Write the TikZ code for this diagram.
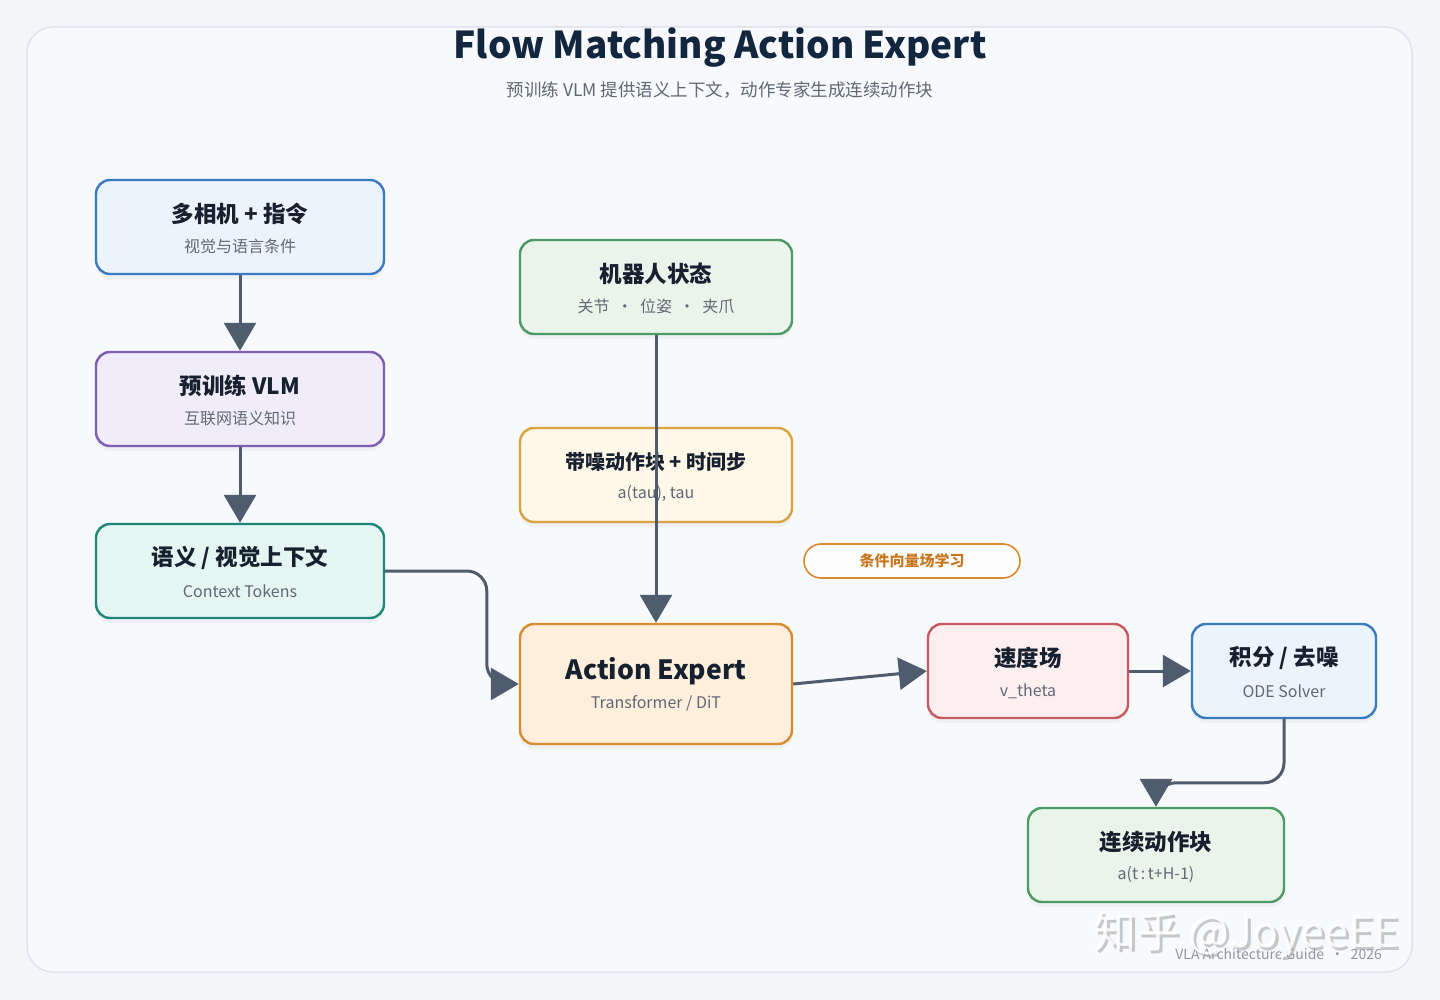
\documentclass[tikz,border=0pt]{standalone}
\usepackage{fontspec}
\setmainfont{Noto Sans CJK SC}
\usetikzlibrary{arrows.meta,shadows,calc}
\definecolor{bgc}{HTML}{F3F6F9}
\definecolor{framec}{HTML}{F7F9FC}
\definecolor{framed}{HTML}{DDE3EA}
\definecolor{titc}{HTML}{12263F}
\definecolor{subc}{HTML}{5F6975}
\definecolor{edgec}{HTML}{4F5C6E}
\definecolor{nodet}{HTML}{16202E}
\definecolor{blueF}{HTML}{EBF4FD}\definecolor{blueD}{HTML}{3A7BC0}
\definecolor{purF}{HTML}{F1ECFA}\definecolor{purD}{HTML}{7F5DB0}
\definecolor{tealF}{HTML}{E4F5F2}\definecolor{tealD}{HTML}{1E877A}
\definecolor{grnF}{HTML}{E9F5EB}\definecolor{grnD}{HTML}{4C9A64}
\definecolor{yelF}{HTML}{FFF7E8}\definecolor{yelD}{HTML}{D9A342}
\definecolor{orgF}{HTML}{FDEFDC}\definecolor{orgD}{HTML}{DA8B30}
\definecolor{redF}{HTML}{FDEFEF}\definecolor{redD}{HTML}{C65A5E}
\definecolor{pillT}{HTML}{C9771F}
\begin{document}
\begin{tikzpicture}[x=1pt,y=-1pt,
  box/.style={draw, line width=2.4pt, rounded corners=14pt, inner sep=0pt,
     drop shadow={opacity=0.07, shadow xshift=0pt, shadow yshift=-5pt}},
  ttl/.style={font=\bfseries\fontsize{22.5}{26}\selectfont, text=nodet, inner sep=0pt},
  sub/.style={font=\fontsize{16}{19}\selectfont, text=subc, inner sep=0pt},
  edge/.style={draw=edgec, line width=3pt, -{Triangle[length=28pt,width=32pt]}, rounded corners=20pt}
]
\useasboundingbox (0,0) rectangle (1440,1000);
\fill[bgc] (0,0) rectangle (1440,1000);
\draw[framed, fill=framec, line width=1.5pt, rounded corners=26pt] (27,27) rectangle (1412,972);

% header
\node[font=\bfseries\fontsize{37}{41}\selectfont, text=titc, inner sep=0pt] (title) at (720,48) {Flow Matching Action Expert};
\node[font=\fontsize{17.5}{20}\selectfont, text=subc, inner sep=0pt] (subtitle) at (720,90) {预训练 VLM 提供语义上下文，动作专家生成连续动作块};

% boxes
\node[box, fill=blueF, draw=blueD, minimum width=288pt, minimum height=94pt] (cam) at (240,227) {};
\node[box, fill=purF, draw=purD, minimum width=288pt, minimum height=94pt] (vlm) at (240,399) {};
\node[box, fill=tealF, draw=tealD, minimum width=288pt, minimum height=94pt] (ctx) at (240,571) {};
\node[box, fill=grnF, draw=grnD, minimum width=272pt, minimum height=94pt] (state) at (656,287) {};
\node[box, fill=yelF, draw=yelD, minimum width=272pt, minimum height=94pt] (noisy) at (656,475) {};
\node[box, fill=orgF, draw=orgD, minimum width=272pt, minimum height=120pt] (ae) at (656,684) {};
\node[box, fill=redF, draw=redD, minimum width=200pt, minimum height=94pt] (vel) at (1028,671) {};
\node[box, fill=blueF, draw=blueD, minimum width=184pt, minimum height=94pt] (ode) at (1284,671) {};
\node[box, fill=grnF, draw=grnD, minimum width=256pt, minimum height=94pt] (out) at (1156,855) {};

% texts
\node[ttl] (camT) at (240,214) {多相机 + 指令};
\node[sub] (camS) at (240,246) {视觉与语言条件};
\node[ttl] (vlmT) at (240,386) {预训练 VLM};
\node[sub] (vlmS) at (240,418) {互联网语义知识};
\node[ttl] (ctxT) at (240,558) {语义 / 视觉上下文};
\node[sub] (ctxS) at (240,591) {Context Tokens};
\node[ttl] (stateT) at (656,274) {机器人状态};
\node[sub] (stateS) at (656,306) {关节\ \ ·\ \ 位姿\ \ ·\ \ 夹爪};
\node[ttl, font=\bfseries\fontsize{20}{23}\selectfont] (noisyT) at (656,462) {带噪动作块 + 时间步};
\node[sub] (noisyS) at (656,494) {a(tau), tau};
\node[ttl, font=\bfseries\fontsize{26.5}{30}\selectfont] (aeT) at (656,671) {Action Expert};
\node[sub] (aeS) at (656,703) {Transformer / DiT};
\node[ttl] (velT) at (1028,658) {速度场};
\node[sub] (velS) at (1028,691) {v\_theta};
\node[ttl] (odeT) at (1284,658) {积分 / 去噪};
\node[sub] (odeS) at (1284,691) {ODE Solver};
\node[ttl] (outT) at (1156,842) {连续动作块};
\node[sub] (outS) at (1156,875) {a(t\,:\,t+H-1)};

% pill label
\node[draw=orgD, fill=white!70!framec, line width=1.6pt, rounded corners=17pt, minimum width=216pt, minimum height=34pt, inner sep=0pt, font=\bfseries\fontsize{15}{17}\selectfont, text=pillT] (pill) at (912,561) {条件向量场学习};

% edges
\draw[edge] (cam.south) -- (vlm.north);
\draw[edge] (vlm.south) -- (ctx.north);
\draw[edge] (ctx.east) -| ($(ae.west)+(-32,0)$) -- (ae.west);
\draw[edge] (state.south) -- (ae.north);
\draw[edge] (ae.east) -- (vel.west);
\draw[edge] (vel.east) -- (ode.west);
\draw[edge] (ode.south) |- ($(out.north)+(0,-24)$) -- (out.north);

% footer
\node[font=\fontsize{14}{16}\selectfont, text=subc!70, anchor=east, inner sep=0pt] (footer) at (1382,954) {VLA Architecture Guide\ \ ·\ \ 2026};

% watermark
\node[font=\fontsize{43}{47}\selectfont, text=gray!70, opacity=0.6, anchor=west, inner sep=0pt] (wmS) at (1096,937) {知乎 @JoyeeEE};
\node[font=\fontsize{43}{47}\selectfont, text=white, opacity=0.85, anchor=west, inner sep=0pt] (wm) at (1093,934) {知乎 @JoyeeEE};
\end{tikzpicture}
\end{document}
